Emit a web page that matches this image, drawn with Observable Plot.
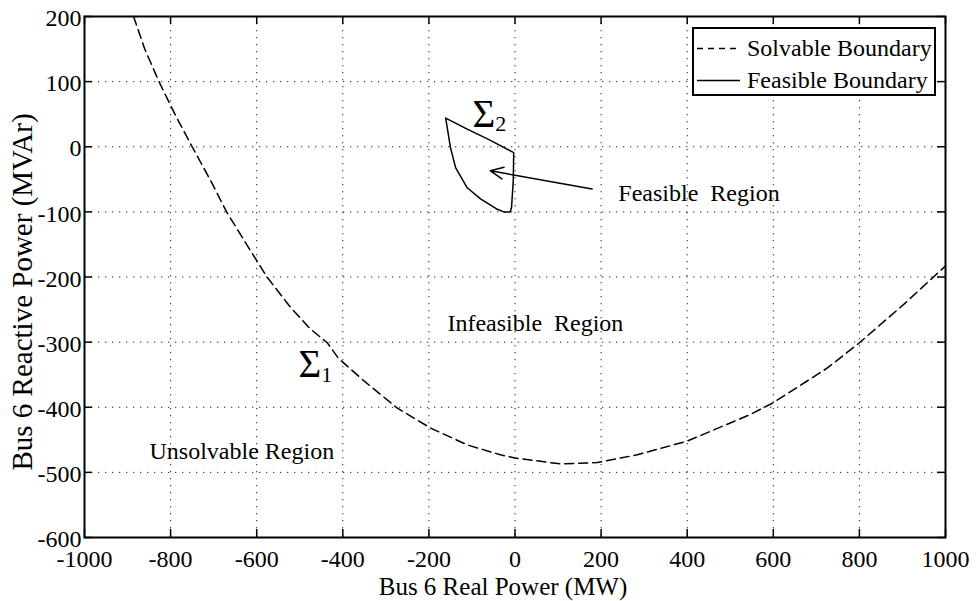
<!DOCTYPE html>
<html>
<head>
<meta charset="utf-8">
<script src="https://cdn.jsdelivr.net/npm/d3@7"></script>
<script src="https://cdn.jsdelivr.net/npm/@observablehq/plot@0.6"></script>
<style>
  html, body { margin: 0; padding: 0; background: #fff; }
  #wrap { position: relative; width: 979px; height: 601px; font-family: "Liberation Serif", "Times New Roman", serif; }
  #legend { position: absolute; left: 692px; top: 27px; width: 240px; height: 65px; border: 2px solid #000; background: #fff; }
  #legend .row { position: absolute; left: 0; width: 240px; height: 24px; }
  #legend svg { position: absolute; left: 3px; top: 0; }
  #legend span { position: absolute; left: 53px; top: 0; font-size: 24px; line-height: 24px; white-space: pre; color: #000; }
</style>
</head>
<body>
<div id="wrap"></div>
<script>
// Axis ticks
const xTicks = [-1000, -800, -600, -400, -200, 0, 200, 400, 600, 800, 1000];
const yTicks = [200, 100, 0, -100, -200, -300, -400, -500, -600];

// Solvable boundary (dashed)
const solvableX = [-886, -860, -827, -790, -750, -707, -670, -614, -576, -521, -475, -436, -410, -350, -274, -196, -110, -34, 0, 106, 191, 284, 400, 547, 600, 725, 800, 903, 1000];
const solvableY = [200, 150, 100, 50, 0, -52, -100, -160, -200, -247, -280, -301, -325, -360, -401, -432, -458, -473, -478, -487, -485, -473, -452, -411, -393, -340, -301, -242, -183];

// Feasible boundary (solid, closed)
const feasibleX = [-161, -150, -138, -111, -80, -41, -26, -11, -8, -4, -3, -64, -111, -161];
const feasibleY = [44, -1, -32, -63, -80, -96, -100, -100, -93, -52, -9, 12, 27, 44];

// Region labels
const regionLabels = ["Feasible  Region", "Infeasible  Region", "Unsolvable Region"];
const regionX = [240, -157, -849];
const regionY = [-71, -271, -467];

// Sigma labels
const sigmaSubs = ["1", "2"];
const sigmaX = [-503, -99];
const sigmaY = [-334, 49];
const subX = [-450, -46];
const subY = [-351, 35];

// Arrow (tail -> head)
const arrowFrom = [179, -65];
const arrowTo = [-57, -37];

const legendLabels = ["Solvable Boundary", "Feasible Boundary"];
const xLabel = "Bus 6 Real Power (MW)";
const yLabel = "Bus 6 Reactive Power (MVAr)";

const solvable = solvableX.map((x, i) => ({x, y: solvableY[i]}));
const feasible = feasibleX.map((x, i) => ({x, y: feasibleY[i]}));
const regions = regionLabels.map((t, i) => ({t, x: regionX[i], y: regionY[i]}));
const sigmas = sigmaSubs.map((s, i) => ({s, x: sigmaX[i], y: sigmaY[i], sx: subX[i], sy: subY[i]}));

const W = 979, H = 601, mL = 84, mR = 34, mT = 16, mB = 64;
const fw = W - mL - mR, fh = H - mT - mB, tk = 8;

const chart = Plot.plot({
  width: W, height: H,
  marginLeft: mL, marginRight: mR, marginTop: mT, marginBottom: mB,
  x: {domain: [-1000, 1000]},
  y: {domain: [-600, 200]},
  style: {fontFamily: "'Liberation Serif', 'Times New Roman', serif", fontSize: "24px", color: "#000", background: "#fff", overflow: "visible"},
  marks: [
    Plot.gridX(xTicks, {stroke: "#000", strokeOpacity: 0.85, strokeWidth: 1, strokeDasharray: "1.3,5.7"}),
    Plot.gridY(yTicks, {stroke: "#000", strokeOpacity: 0.85, strokeWidth: 1, strokeDasharray: "1.3,5.7"}),
    Plot.line(solvable, {x: "x", y: "y", stroke: "#000", strokeWidth: 1.5, strokeDasharray: "9,5"}),
    Plot.line(feasible, {x: "x", y: "y", stroke: "#000", strokeWidth: 1.5}),
    Plot.arrow([0], {x1: () => arrowFrom[0], y1: () => arrowFrom[1], x2: () => arrowTo[0], y2: () => arrowTo[1], stroke: "#000", strokeWidth: 1.5, headLength: 14, headAngle: 50}),
    Plot.text(regions, {x: "x", y: "y", text: "t", textAnchor: "start", fontSize: 24, fill: "#000"}),
    Plot.text(sigmas, {x: "x", y: "y", text: () => "Σ", textAnchor: "start", fontSize: 39, fill: "#000"}),
    Plot.text(sigmas, {x: "sx", y: "sy", text: "s", textAnchor: "start", fontSize: 22, fill: "#000"}),
    // inward ticks on all four sides
    Plot.tickX(xTicks, {x: d => d, insetTop: fh - tk, stroke: "#000", strokeWidth: 1.5}),
    Plot.tickX(xTicks, {x: d => d, insetBottom: fh - tk, stroke: "#000", strokeWidth: 1.5}),
    Plot.tickY(yTicks, {y: d => d, insetRight: fw - tk, stroke: "#000", strokeWidth: 1.5}),
    Plot.tickY(yTicks, {y: d => d, insetLeft: fw - tk, stroke: "#000", strokeWidth: 1.5}),
    Plot.frame({stroke: "#000", strokeWidth: 2}),
    Plot.axisX({ticks: xTicks, tickSize: 0, tickPadding: 12, tickFormat: d => String(d), label: null, fontSize: 24}),
    Plot.axisY({ticks: yTicks, tickSize: 0, tickPadding: 3, tickFormat: d => String(d), label: null, fontSize: 24, dy: 2}),
    Plot.text([xLabel], {frameAnchor: "bottom", textAnchor: "middle", lineAnchor: "top", dy: 40, dx: -12, fontSize: 25, fill: "#000"}),
    Plot.text([yLabel], {frameAnchor: "left", textAnchor: "middle", rotate: -90, lineAnchor: "middle", dx: -62, dy: 15, fontSize: 29, fill: "#000"})
  ]
});

const wrap = document.getElementById("wrap");
wrap.appendChild(chart);

// Legend
const legend = document.createElement("div");
legend.id = "legend";
const dashes = ["6,5", null];
const rowTops = [7, 39];
legendLabels.forEach((lab, i) => {
  const row = document.createElement("div");
  row.className = "row";
  row.style.top = rowTops[i] + "px";
  const svg = d3.create("svg").attr("width", 44).attr("height", 24);
  svg.append("line").attr("x1", 0).attr("x2", 43).attr("y1", 12.5).attr("y2", 12.5)
    .attr("stroke", "#000").attr("stroke-width", 1.5)
    .attr("stroke-dasharray", dashes[i]);
  row.appendChild(svg.node());
  const span = document.createElement("span");
  span.textContent = lab;
  row.appendChild(span);
  legend.appendChild(row);
});
wrap.appendChild(legend);
</script>
</body>
</html>
